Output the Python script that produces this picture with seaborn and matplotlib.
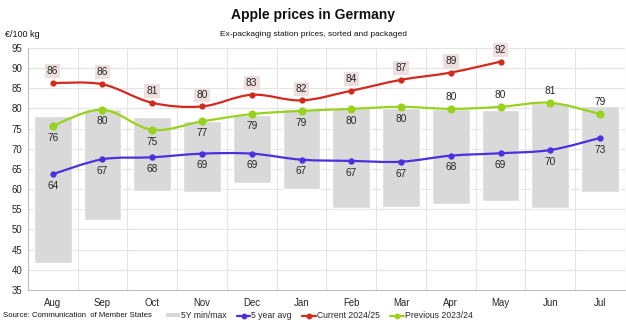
import matplotlib
matplotlib.use("Agg")
import matplotlib.pyplot as plt
from matplotlib.path import Path
from matplotlib.patches import PathPatch, Patch
from matplotlib.lines import Line2D
import numpy as np
import pandas as pd
import seaborn as sns

months = ["Aug", "Sep", "Oct", "Nov", "Dec", "Jan", "Feb", "Mar", "Apr", "May", "Jun", "Jul"]
range_min = [41.7, 52.4, 59.6, 59.3, 61.4, 60.1, 55.4, 55.5, 56.2, 57.1, 55.4, 59.3]
range_max = [78.1, 79.8, 78.0, 77.0, 78.5, 79.9, 80.0, 80.0, 79.8, 79.6, 81.3, 80.7]
avg_5y = [63.7, 67.4, 67.9, 68.8, 68.8, 67.3, 67.0, 66.8, 68.3, 68.9, 69.7, 72.7]
current = [86.3, 86.0, 81.4, 80.5, 83.4, 82.0, 84.4, 87.1, 88.9, 91.6]
previous = [75.7, 79.7, 74.7, 76.8, 78.6, 79.4, 79.9, 80.4, 79.9, 80.4, 81.4, 78.6]

RED = "#d42a1e"
BLUE = "#4b30e0"
GREEN = "#98d21f"
GREY = "#d9d9d9"
FONT = ["Liberation Sans", "DejaVu Sans"]

sns.set_theme(style="white")
plt.rcParams["font.family"] = FONT

fig = plt.figure(figsize=(6.26, 3.24), dpi=100)
ax = fig.add_axes([0.0444, 0.105, 0.954, 0.747])

df = pd.DataFrame({"month": months, "lo": range_min, "hi": range_max})
df["span"] = df["hi"] - df["lo"]
sns.barplot(data=df, x="month", y="span", bottom=df["lo"].to_numpy(), color=GREY,
            width=0.76, saturation=1, ax=ax, zorder=2)


def smooth_path(ys):
    """Excel-style smoothed line: cubic Bezier segments with 1/6 tangents."""
    xs = np.arange(len(ys), dtype=float)
    pts = np.column_stack([xs, np.asarray(ys, float)])
    n = len(pts)
    verts = [pts[0]]
    codes = [Path.MOVETO]
    for i in range(n - 1):
        p0 = pts[max(i - 1, 0)]
        p1 = pts[i]
        p2 = pts[i + 1]
        p3 = pts[min(i + 2, n - 1)]
        c1 = p1 + (p2 - p0) / 6.0
        c2 = p2 - (p3 - p1) / 6.0
        verts += [c1, c2, p2]
        codes += [Path.CURVE4] * 3
    return Path(verts, codes)


def draw_series(ys, color, msize, z):
    ax.add_patch(PathPatch(smooth_path(ys), facecolor="none", edgecolor=color,
                           lw=1.6, zorder=z, capstyle="round"))
    sns.scatterplot(x=np.arange(len(ys)), y=ys, color=color, s=msize, edgecolor=color,
                    linewidth=0, zorder=z + 0.5, ax=ax, legend=False)


draw_series(avg_5y, BLUE, 21, 4)
draw_series(previous, GREEN, 34, 5)
draw_series(current, RED, 20, 6)

lab_kw = dict(textcoords="offset points", ha="center", va="center", fontsize=7.3,
              color="#262626", zorder=8)
for i, v in enumerate(avg_5y):
    ax.annotate(f"{v:.0f}", (i, v), xytext=(0, -8.5), **lab_kw)
for i, v in enumerate(previous):
    dy = 8.5 if i >= 8 else -8.5
    ax.annotate(f"{v:.0f}", (i, v), xytext=(0, dy), **lab_kw)
for i, v in enumerate(current):
    ax.annotate(f"{v:.0f}", (i, v), xytext=(0, 8.5),
                bbox=dict(boxstyle="square,pad=0.2", fc="#efdede", ec="none"), **lab_kw)

ax.set_xlim(-0.5, len(months) - 0.5)
ax.set_ylim(35, 95)
ax.set_yticks(np.arange(35, 96, 5))
ax.set_xticks(range(len(months)))
ax.set_xticklabels(months)
ax.set_xlabel("")
ax.set_ylabel("")
ax.set_xticks(np.arange(-0.5, len(months), 1), minor=True)
ax.grid(False)
for y in np.arange(40, 96, 5):
    ax.axhline(y, color="#e4e4e4", lw=0.8, zorder=0)
for x in np.arange(0.5, len(months) - 0.5, 1):
    ax.axvline(x, color="#e4e4e4", lw=0.8, zorder=0)
ax.axvline(len(months) - 0.5, color="#e4e4e4", lw=0.8, zorder=0)
for side in ["top", "right"]:
    ax.spines[side].set_visible(False)
for side in ["left", "bottom"]:
    ax.spines[side].set_color("#bfbfbf")
    ax.spines[side].set_linewidth(0.8)
ax.tick_params(axis="both", which="major", labelsize=6.9, colors="#262626", length=0, pad=6)
ax.tick_params(axis="x", which="minor", length=3, color="#bfbfbf", width=0.8)
ax.tick_params(axis="y", which="major", pad=4)

fig.text(0.5, 0.955, "Apple prices in Germany", ha="center", va="center",
         fontsize=10, fontweight="bold", color="#111111")
fig.text(0.5, 0.893, "Ex-packaging station prices, sorted and packaged", ha="center",
         va="center", fontsize=6.0, color="#111111")
fig.text(0.008, 0.893, "€/100 kg", ha="left", va="center", fontsize=6.5, color="#111111")
fig.text(0.005, 0.025, "Source: Communication  of Member States", ha="left", va="center",
         fontsize=5.6, color="#111111")

handles = [
    Patch(facecolor=GREY, edgecolor="none", label="5Y min/max"),
    Line2D([], [], color=BLUE, lw=1.6, marker="o", ms=3.2, label="5 year avg"),
    Line2D([], [], color=RED, lw=1.6, marker="o", ms=3.2, label="Current 2024/25"),
    Line2D([], [], color=GREEN, lw=1.6, marker="o", ms=3.2, label="Previous 2023/24"),
]
fig.legend(handles=handles, loc="center", bbox_to_anchor=(0.51, 0.025), ncol=4,
           frameon=False, fontsize=6.2, handlelength=1.6, handleheight=0.35,
           handletextpad=0.1, columnspacing=1.2, borderaxespad=0, borderpad=0)

fig.savefig("out.png", dpi=100, facecolor="white")
